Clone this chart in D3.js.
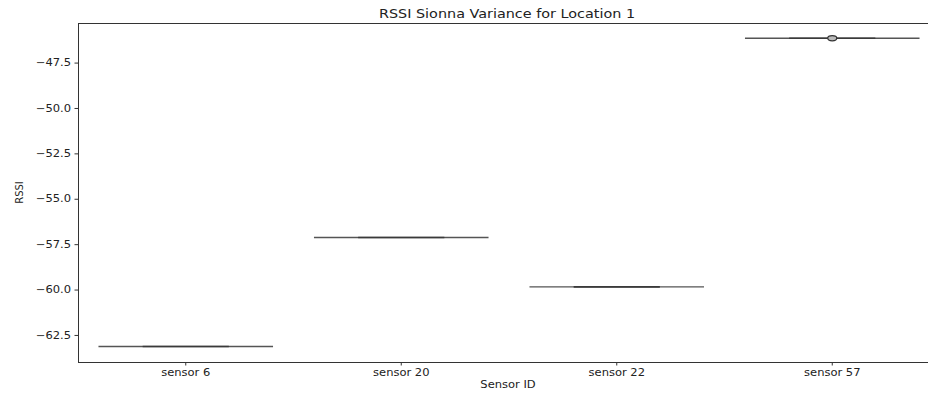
<!DOCTYPE html>
<html>
<head>
<meta charset="utf-8">
<script src="https://cdn.jsdelivr.net/npm/d3@7/dist/d3.min.js"></script>
<style>
  html, body { margin: 0; padding: 0; background: #fff; }
  svg { display: block; }
  text { font-family: "DejaVu Sans", sans-serif; fill: #222; }
</style>
</head>
<body>
<div id="chart"></div>
<script>
// Sensor categories and their RSSI readings (Sionna simulation, location 1)
const sensors = ["sensor 6", "sensor 20", "sensor 22", "sensor 57"];
const rssiMedian = [-63.14, -57.13, -59.85, -46.16];
// half-height of the inner quartile box (dB); zero when the readings do not vary
const rssiSpread = [0, 0, 0, 0.14];
const yTicks = [-47.5, -50.0, -52.5, -55.0, -57.5, -60.0, -62.5];

const W = 928, H = 394;
const margin = { left: 78, top: 23, right: -12, bottom: 32 };
const plotRight = W - margin.right;
const plotBottom = H - margin.bottom;
const textStretch = 1.15; // figure text is rendered slightly wide

const svg = d3.select("#chart").append("svg")
  .attr("width", W).attr("height", H);

function widen(sel) {
  sel.each(function () {
    const len = this.getComputedTextLength();
    d3.select(this).attr("textLength", len * textStretch).attr("lengthAdjust", "spacingAndGlyphs");
  });
}

const x = d3.scaleBand().domain(sensors)
  .range([margin.left, plotRight]).paddingInner(0).paddingOuter(0);
const y = d3.scaleLinear().domain([-63.99, -45.32]).range([plotBottom, margin.top]);

const fmtMinus = d => d3.format(".1f")(d).replace("-", "\u2212");

// y axis
const yAxis = svg.append("g")
  .attr("transform", `translate(${margin.left},0)`)
  .call(d3.axisLeft(y).tickValues(yTicks).tickFormat(fmtMinus).tickSize(3.5).tickPadding(3.5));
yAxis.select(".domain").remove();
yAxis.selectAll("line").attr("stroke", "#333");
yAxis.selectAll("text").style("font-size", "10px").style("fill", "#222").call(widen);

// x axis
const xAxis = svg.append("g")
  .attr("transform", `translate(0,${plotBottom})`)
  .call(d3.axisBottom(x).tickSize(3.5).tickPadding(3.5));
xAxis.select(".domain").remove();
xAxis.selectAll("line").attr("stroke", "#333");
xAxis.selectAll("text").style("font-size", "10px").style("fill", "#222").call(widen);

// spines
const spine = svg.append("g").attr("stroke", "#333").attr("stroke-width", 1).attr("fill", "none");
spine.append("line").attr("x1", margin.left + 0.5).attr("x2", margin.left + 0.5)
  .attr("y1", margin.top).attr("y2", plotBottom);
spine.append("line").attr("x1", margin.left).attr("x2", plotRight)
  .attr("y1", plotBottom + 0.5).attr("y2", plotBottom + 0.5);
spine.append("line").attr("x1", margin.left).attr("x2", plotRight)
  .attr("y1", margin.top + 0.5).attr("y2", margin.top + 0.5);

// violins: with no spread each body collapses to a flat line at the median
const violinWidth = 0.81;
const data = sensors.map((s, i) => ({ s, v: rssiMedian[i], spread: rssiSpread[i] }));
const g = svg.append("g");
g.selectAll("line.violin").data(data).join("line")
  .attr("class", "violin")
  .attr("x1", d => x(d.s) + x.bandwidth() * (1 - violinWidth) / 2)
  .attr("x2", d => x(d.s) + x.bandwidth() * (1 + violinWidth) / 2)
  .attr("y1", d => y(d.v)).attr("y2", d => y(d.v))
  .attr("stroke", "#555").attr("stroke-width", 1.4);
// inner whisker
g.selectAll("line.whisker").data(data).join("line")
  .attr("class", "whisker")
  .attr("x1", d => x(d.s) + x.bandwidth() * 0.3)
  .attr("x2", d => x(d.s) + x.bandwidth() * 0.7)
  .attr("y1", d => y(d.v)).attr("y2", d => y(d.v))
  .attr("stroke", "#3a3a3a").attr("stroke-width", 1.6);
// quartile box where the readings vary
g.selectAll("ellipse").data(data.filter(d => d.spread > 0)).join("ellipse")
  .attr("cx", d => x(d.s) + x.bandwidth() / 2)
  .attr("cy", d => y(d.v))
  .attr("rx", 4.5)
  .attr("ry", d => Math.abs(y(d.v - d.spread) - y(d.v)))
  .attr("fill", "#bbb").attr("stroke", "#333").attr("stroke-width", 1.2);

// titles
const cx = (margin.left + plotRight) / 2;
svg.append("text").attr("x", cx - 2).attr("y", 18).attr("text-anchor", "middle")
  .style("font-size", "12.5px").text("RSSI Sionna Variance for Location 1").call(widen);
svg.append("text").attr("x", cx - 1).attr("y", 388).attr("text-anchor", "middle")
  .style("font-size", "10px").text("Sensor ID").call(widen);
svg.append("text").attr("transform", `translate(23,${(margin.top + plotBottom) / 2}) rotate(-90)`)
  .attr("text-anchor", "middle").style("font-size", "10px").text("RSSI");
</script>
</body>
</html>
